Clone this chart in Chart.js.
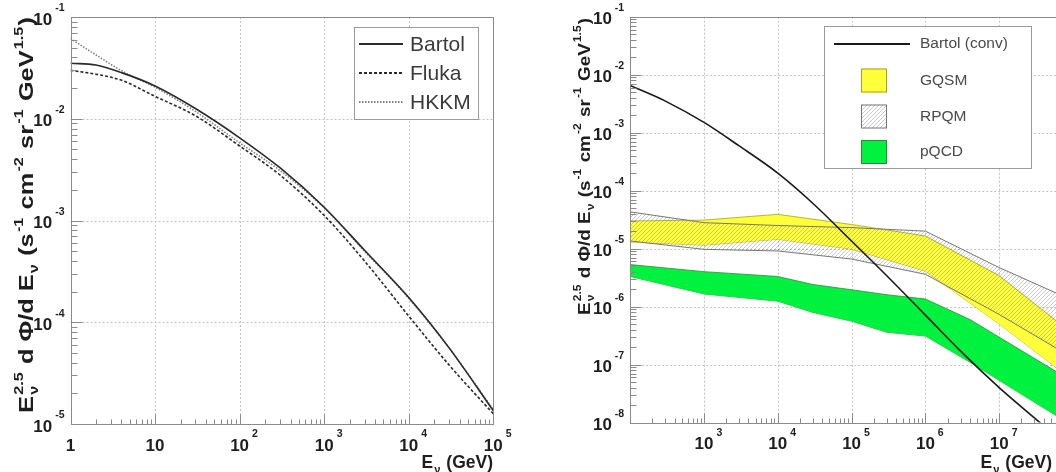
<!DOCTYPE html>
<html>
<head>
<meta charset="utf-8">
<script src="https://cdn.jsdelivr.net/npm/chart.js@4.4.1/dist/chart.umd.min.js"></script>
<style>
  body { margin: 0; background: #fff; overflow: hidden; width: 1056px; height: 472px; position: relative; }
  canvas { position: absolute; top: 0; }
</style>
</head>
<body>
<canvas id="left" width="528" height="472" style="left:0"></canvas>
<canvas id="right" width="540" height="472" style="left:528px"></canvas>
<script>
// ---- left panel: atmospheric flux models ----
const eLeft = [1, 2, 4, 10, 30, 100, 300, 1000, 3000, 10000, 30000, 100000];
const bartol = [0.0351, 0.0337, 0.0284, 0.0210, 0.0126, 0.0065, 0.0033, 0.00135, 5.1e-4, 1.75e-4, 5.6e-5, 1.35e-5];
const fluka = [0.0299, 0.0274, 0.0239, 0.0166, 0.0107, 0.0054, 0.0028, 0.00112, 4.0e-4, 1.15e-4, 3.8e-5, 1.26e-5];
const hkkm = [0.0614, 0.0424, 0.0297, 0.0204, 0.0118, 0.0058, 0.0031, 0.00133, 5.0e-4, 1.72e-4, 5.6e-5, 1.38e-5];

const leftXTicks = [1, 10, 100, 1000, 10000, 100000];
const leftXLabels = [['1', ''], ['10', ''], ['10', '2'], ['10', '3'], ['10', '4'], ['10', '5']];
const leftYTicks = [1e-1, 1e-2, 1e-3, 1e-4, 1e-5];
const leftYLabels = [['10', '-1'], ['10', '-2'], ['10', '-3'], ['10', '-4'], ['10', '-5']];

// ---- right panel: conventional vs prompt ----
const eConv = [100, 300, 1000, 3000, 1e4, 3e4, 1e5, 3e5, 1e6, 3e6, 1e7, 3e7, 6e7];
const bartolConv = [6.5e-3, 3.5e-3, 1.5e-3, 5.9e-4, 2.0e-4, 6.0e-5, 1.35e-5, 3.4e-6, 7.1e-7, 1.7e-7, 4.0e-8, 1.2e-8, 5.6e-9];

const eBand = [100, 1000, 1e4, 1e5, 1e6, 1e7, 6e7];
const gqsmHigh = [3.0e-5, 3.1e-5, 3.9e-5, 2.6e-5, 1.65e-5, 3.4e-6, 5.6e-7];
const gqsmLow = [1.3e-5, 1.15e-5, 1.45e-5, 9.8e-6, 4.1e-6, 5.0e-7, 8.7e-8];
const rpqmHigh = [4.3e-5, 2.8e-5, 2.5e-5, 2.3e-5, 2.0e-5, 4.7e-6, 1.7e-6];
const rpqmLow = [1.35e-5, 9.7e-6, 9.1e-6, 6.6e-6, 3.6e-6, 7.3e-7, 1.9e-7];

const eQcd = [100, 1000, 1e4, 3e4, 1e5, 3e5, 1e6, 4e6, 6e7];
const pqcdHigh = [5.3e-6, 4.0e-6, 3.3e-6, 2.4e-6, 1.95e-6, 1.6e-6, 1.35e-6, 6.0e-7, 7.5e-8];
const pqcdLow = [3.3e-6, 1.65e-6, 1.24e-6, 7.9e-7, 5.6e-7, 3.6e-7, 3.1e-7, 1.1e-7, 1.3e-8];

const rightXTicks = [1e3, 1e4, 1e5, 1e6, 1e7];
const rightXLabels = [['10', '3'], ['10', '4'], ['10', '5'], ['10', '6'], ['10', '7']];
const rightYTicks = [1e-1, 1e-2, 1e-3, 1e-4, 1e-5, 1e-6, 1e-7, 1e-8];
const rightYLabels = [['10', '-1'], ['10', '-2'], ['10', '-3'], ['10', '-4'], ['10', '-5'], ['10', '-6'], ['10', '-7'], ['10', '-8']];

const yTitle = ['E', {sup: '2.5', sub: 'ν'}, ' d Φ/d E', {sub: 'ν'}, ' (s', {sup: '-1'}, ' cm', {sup: '-2'}, ' sr', {sup: '-1'}, ' GeV', {sup: '1.5'}, ')'];
const xTitle = ['E', {sub: 'ν'}, ' (GeV)'];

const FONT = '"Liberation Sans", Arial, Helvetica, sans-serif';

const pts = (xs, ys) => xs.map((x, i) => ({x: x, y: ys[i]}));

// draws (or measures) a run of text with sub/superscripts, extra px added at each space
function richRun(ctx, parts, size, extra, draw, x0, y0) {
  let x = x0;
  const small = size * 0.64;
  parts.forEach(p => {
    if (typeof p === 'string') {
      ctx.font = 'bold ' + size + 'px ' + FONT;
      p.split(' ').forEach((w, i) => {
        if (i > 0) x += ctx.measureText(' ').width + extra;
        if (draw) ctx.fillText(w, x, y0);
        x += ctx.measureText(w).width;
      });
    } else {
      ctx.font = 'bold ' + small + 'px ' + FONT;
      const ws = p.sup ? ctx.measureText(p.sup).width : 0;
      const wb = p.sub ? ctx.measureText(p.sub).width : 0;
      if (draw) {
        if (p.sup) ctx.fillText(p.sup, x + 1, y0 - size * 0.5);
        if (p.sub) ctx.fillText(p.sub, x + 1, y0 + size * 0.26);
      }
      x += Math.max(ws, wb) + 2;
    }
  });
  return x - x0;
}

function spaces(parts) {
  return parts.filter(p => typeof p === 'string').reduce((n, s) => n + s.split(' ').length - 1, 0);
}

// rotated axis title, reading bottom to top, spread over a given length
function drawYTitle(ctx, baseX, yStart, length, size) {
  ctx.save();
  ctx.fillStyle = '#1e1e1e';
  ctx.textAlign = 'left';
  ctx.textBaseline = 'alphabetic';
  const natural = richRun(ctx, yTitle, size, 0, false, 0, 0);
  const sx = Math.min(1.25, length / natural);
  const extra = Math.max(0, (length - natural * sx) / spaces(yTitle)) / sx;
  ctx.translate(baseX, yStart);
  ctx.rotate(-Math.PI / 2);
  ctx.scale(sx, 1);
  richRun(ctx, yTitle, size, extra, true, 0, 0);
  ctx.restore();
}

function drawXTitle(ctx, rightX, baseY, size) {
  ctx.save();
  ctx.fillStyle = '#1e1e1e';
  ctx.textAlign = 'left';
  ctx.textBaseline = 'alphabetic';
  const w = richRun(ctx, xTitle, size, 0, false, 0, 0);
  richRun(ctx, xTitle, size, 0, true, rightX - w, baseY);
  ctx.restore();
}

function sciLabel(ctx, base, exp, x, y, align, size) {
  const es = size * 0.62;
  ctx.font = 'bold ' + size + 'px ' + FONT;
  const bw = ctx.measureText(base).width;
  ctx.font = 'bold ' + es + 'px ' + FONT;
  const ew = exp ? ctx.measureText(exp).width + 3 : 0;
  const x0 = align === 'center' ? x - bw / 2 : x - bw - ew;
  ctx.font = 'bold ' + size + 'px ' + FONT;
  ctx.fillText(base, x0, y);
  if (exp) {
    ctx.font = 'bold ' + es + 'px ' + FONT;
    ctx.fillText(exp, x0 + bw + 3, y - size * 0.72 - 1);
  }
}

function hLine(ctx, x1, y1, x2, y2) {
  ctx.beginPath();
  ctx.moveTo(x1, y1);
  ctx.lineTo(x2, y2);
  ctx.stroke();
}

function panelPlugin(cfg) {
  return {
    id: 'panel_' + cfg.name,
    beforeDatasetsDraw(chart) {
      const {ctx, chartArea: a, scales: {x, y}} = chart;
      ctx.save();
      ctx.strokeStyle = '#c2c2c2';
      ctx.lineWidth = 1;
      ctx.setLineDash([2, 2]);
      cfg.xTicks.forEach(v => {
        const px = Math.round(x.getPixelForValue(v)) + 0.5;
        if (px > a.left + 2 && px < a.right - 2) hLine(ctx, px, a.top, px, a.bottom);
      });
      cfg.yTicks.forEach(v => {
        const py = Math.round(y.getPixelForValue(v)) + 0.5;
        if (py > a.top + 2 && py < a.bottom - 2) hLine(ctx, a.left, py, a.right, py);
      });
      ctx.restore();
    },
    afterDatasetsDraw(chart) {
      const {ctx, chartArea: a, scales: {x, y}} = chart;
      ctx.save();
      ctx.strokeStyle = '#8a8a8a';
      ctx.lineWidth = 1;
      const L = Math.round(a.left) + 0.5, T = Math.round(a.top) + 0.5;
      const R = Math.round(a.right) + 0.5, B = Math.round(a.bottom) + 0.5;
      ctx.strokeRect(L, T, R - L, B - T);
      // log minor ticks on bottom and left
      for (let d = Math.floor(Math.log10(x.min)); d <= Math.ceil(Math.log10(x.max)); d++) {
        for (let m = 1; m <= 9; m++) {
          const v = m * Math.pow(10, d);
          if (v < x.min || v > x.max) continue;
          const px = Math.round(x.getPixelForValue(v)) + 0.5;
          hLine(ctx, px, B, px, B - (m === 1 ? 10 : 5));
        }
      }
      for (let d = Math.floor(Math.log10(y.min)); d <= Math.ceil(Math.log10(y.max)); d++) {
        for (let m = 1; m <= 9; m++) {
          const v = m * Math.pow(10, d);
          if (v < y.min || v > y.max) continue;
          const py = Math.round(y.getPixelForValue(v)) + 0.5;
          hLine(ctx, L, py, L + (m === 1 ? 11 : 6), py);
        }
      }
      ctx.restore();
    },
    afterDraw(chart) {
      const {ctx, chartArea: a, scales: {x, y}} = chart;
      ctx.save();
      ctx.fillStyle = '#1e1e1e';
      ctx.textAlign = 'left';
      ctx.textBaseline = 'alphabetic';
      cfg.xTicks.forEach((v, i) => {
        const lab = cfg.xLabels[i];
        sciLabel(ctx, lab[0], lab[1], x.getPixelForValue(v), a.bottom + 26.5, 'center', 17);
      });
      cfg.yTicks.forEach((v, i) => {
        const lab = cfg.yLabels[i];
        sciLabel(ctx, lab[0], lab[1], a.left - 6, y.getPixelForValue(v) + 7.5, 'right', 17);
      });
      ctx.restore();
      drawYTitle(ctx, cfg.yTitleX, cfg.yTitleStart, cfg.yTitleLen, cfg.yTitleSize);
      drawXTitle(ctx, cfg.xTitleRight, 468, 17.5);
      cfg.legend(ctx, chart);
    }
  };
}

function legendBox(ctx, x, y, w, h) {
  ctx.fillStyle = '#ffffff';
  ctx.fillRect(x, y, w, h);
  ctx.strokeStyle = '#9a9a9a';
  ctx.lineWidth = 1;
  ctx.strokeRect(x, y, w, h);
}

// ---------------- left chart ----------------
new Chart(document.getElementById('left'), {
  type: 'line',
  data: {
    datasets: [
      {label: 'Bartol', data: pts(eLeft, bartol), borderColor: '#2a2a2a', borderWidth: 1.6},
      {label: 'Fluka', data: pts(eLeft, fluka), borderColor: '#2a2a2a', borderWidth: 1.6, borderDash: [3, 2]},
      {label: 'HKKM', data: pts(eLeft, hkkm), borderColor: '#808080', borderWidth: 1.6, borderDash: [1.5, 1.5]}
    ]
  },
  options: {
    responsive: false,
    animation: false,
    events: [],
    layout: {padding: {left: 0, right: 34.7, top: 17, bottom: 0}},
    elements: {point: {radius: 0}, line: {cubicInterpolationMode: 'monotone', fill: false}},
    plugins: {legend: {display: false}, tooltip: {enabled: false}},
    scales: {
      x: {type: 'logarithmic', min: 1, max: 1e5, ticks: {display: false}, grid: {display: false}, border: {display: false},
          afterFit: s => { s.height = 48; }},
      y: {type: 'logarithmic', min: 1e-5, max: 1e-1, ticks: {display: false}, grid: {display: false}, border: {display: false},
          afterFit: s => { s.width = 70.5; }}
    }
  },
  plugins: [panelPlugin({
    name: 'left',
    xTicks: leftXTicks, xLabels: leftXLabels, yTicks: leftYTicks, yLabels: leftYLabels,
    yTitleX: 33, yTitleStart: 413, yTitleLen: 396, yTitleSize: 20.5,
    xTitleRight: 493,
    legend: (ctx, chart) => {
      ctx.save();
      legendBox(ctx, 354.5, 27.5, 124, 92);
      const rows = [44, 73, 102];
      chart.data.datasets.forEach((ds, i) => {
        ctx.strokeStyle = ds.borderColor;
        ctx.lineWidth = 2;
        ctx.setLineDash(ds.borderDash || []);
        hLine(ctx, 359, rows[i], 403, rows[i]);
        ctx.setLineDash([]);
        ctx.fillStyle = '#3a3a3a';
        ctx.font = '21px ' + FONT;
        ctx.textBaseline = 'middle';
        ctx.fillText(ds.label, 410, rows[i] + 1);
      });
      ctx.restore();
    }
  })]
});

// ---------------- right chart ----------------
const rctx = document.getElementById('right').getContext('2d');
const tile = document.createElement('canvas');
tile.width = 4; tile.height = 4;
const tg = tile.getContext('2d');
tg.strokeStyle = 'rgba(110,110,110,0.36)';
tg.lineWidth = 1;
tg.beginPath();
tg.moveTo(-1, 5); tg.lineTo(5, -1);
tg.moveTo(-1, 1); tg.lineTo(1, -1);
tg.moveTo(3, 5); tg.lineTo(5, 3);
tg.stroke();
const hatch = rctx.createPattern(tile, 'repeat');

const YELLOW = '#ffff3a';
const GREEN = '#00f23e';

new Chart(rctx, {
  type: 'line',
  data: {
    datasets: [
      {label: 'Bartol (conv)', data: pts(eConv, bartolConv), borderColor: '#1a1a1a', borderWidth: 1.6, cubicInterpolationMode: 'monotone', fill: false},
      {label: 'RPQM', data: pts(eBand, rpqmHigh), borderColor: '#777777', borderWidth: 1, backgroundColor: hatch, fill: '+1'},
      {label: 'RPQM low', data: pts(eBand, rpqmLow), borderColor: '#777777', borderWidth: 1, fill: false},
      {label: 'GQSM', data: pts(eBand, gqsmHigh), borderColor: '#a8a020', borderWidth: 0.8, backgroundColor: YELLOW, fill: '+1'},
      {label: 'GQSM low', data: pts(eBand, gqsmLow), borderColor: '#a8a020', borderWidth: 0.8, fill: false},
      {label: 'pQCD', data: pts(eQcd, pqcdHigh), borderColor: '#2c8a3a', borderWidth: 0.8, backgroundColor: GREEN, fill: '+1'},
      {label: 'pQCD low', data: pts(eQcd, pqcdLow), borderColor: '#2c8a3a', borderWidth: 0.8, fill: false}
    ]
  },
  options: {
    responsive: false,
    animation: false,
    events: [],
    layout: {padding: {left: 0, right: 11.4, top: 16.7, bottom: 0}},
    elements: {point: {radius: 0}, line: {tension: 0}},
    plugins: {legend: {display: false}, tooltip: {enabled: false}},
    scales: {
      x: {type: 'logarithmic', min: 100, max: 6e7, ticks: {display: false}, grid: {display: false}, border: {display: false},
          afterFit: s => { s.height = 49.5; }},
      y: {type: 'logarithmic', min: 1e-8, max: 1e-1, ticks: {display: false}, grid: {display: false}, border: {display: false},
          afterFit: s => { s.width = 102.2; }}
    }
  },
  plugins: [panelPlugin({
    name: 'right',
    xTicks: rightXTicks, xLabels: rightXLabels, yTicks: rightYTicks, yLabels: rightYLabels,
    yTitleX: 61.5, yTitleStart: 315, yTitleLen: 297, yTitleSize: 17,
    xTitleRight: 524,
    legend: (ctx, chart) => {
      ctx.save();
      legendBox(ctx, 296.5, 26.5, 207, 142);
      const ds = chart.data.datasets;
      ctx.font = '15.5px ' + FONT;
      ctx.textBaseline = 'middle';
      ctx.strokeStyle = ds[0].borderColor;
      ctx.lineWidth = 2;
      hLine(ctx, 306, 44, 382, 44);
      ctx.fillStyle = '#4a4a4a';
      ctx.fillText(ds[0].label, 392, 44);
      const items = [[ds[3], 68.5], [ds[1], 104.5], [ds[5], 140]];
      items.forEach(([d, top]) => {
        ctx.fillStyle = '#ffffff';
        ctx.fillRect(333, top, 26, 24);
        ctx.fillStyle = d.backgroundColor;
        ctx.fillRect(333, top, 26, 24);
        ctx.strokeStyle = d.borderColor;
        ctx.lineWidth = 1;
        ctx.strokeRect(333.5, top + 0.5, 25, 23);
        ctx.fillStyle = '#4a4a4a';
        ctx.fillText(d.label, 392, top + 12);
      });
      ctx.restore();
    }
  })]
});
</script>
</body>
</html>
